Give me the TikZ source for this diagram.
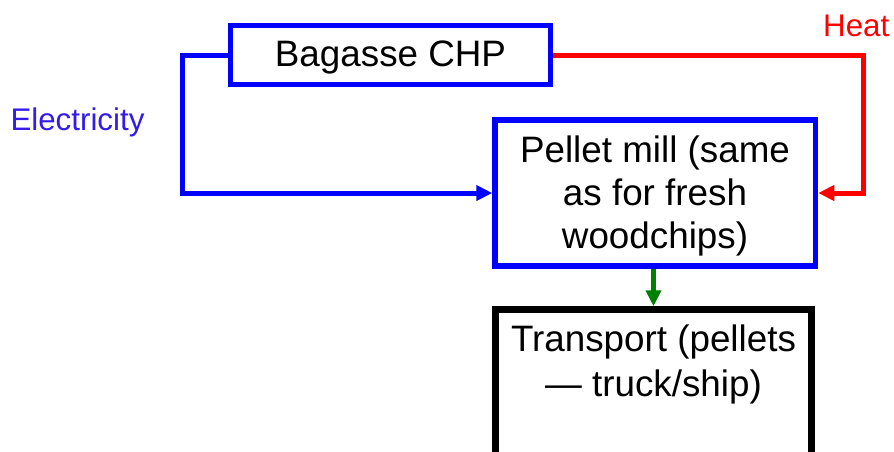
\documentclass[tikz,border=0pt]{standalone}
\usepackage{fontspec}
\setmainfont{Liberation Sans}
\usetikzlibrary{arrows.meta}
\definecolor{elabel}{RGB}{52,28,232}
\definecolor{flowgreen}{RGB}{0,128,0}
\begin{document}
\begin{tikzpicture}[x=1pt,y=-1pt,
  bluebox/.style={draw=blue,line width=5.5pt,fill=white,inner sep=0pt},
  blackbox/.style={draw=black,line width=6.5pt,fill=white,inner sep=0pt},
  boxtext/.style={inner sep=0pt,align=center,font=\fontsize{36.8}{42}\selectfont},
  conn/.style={line width=5pt,-{Triangle[length=16pt,width=15pt]}},
  lbl/.style={inner sep=0pt,anchor=base west,font=\fontsize{31.3}{36}\selectfont}]
\useasboundingbox (0,0) rectangle (894,451);
\clip (0,0) rectangle (894,451);
\fill[white] (0,0) rectangle (894,451);
% boxes
\node[bluebox,minimum width=320pt,minimum height=59pt] (chp) at (390.5,55) {};
\node[boxtext,anchor=base] (chptxt) at (390.5,66.7) {Bagasse CHP};
\node[bluebox,minimum width=320.5pt,minimum height=146pt] (pellet) at (655.25,193) {};
\node[boxtext,font=\fontsize{36.8}{43}\selectfont] (pellettxt) at (655,196) {Pellet mill (same\\as for fresh\\woodchips)};
\node[blackbox,minimum width=316pt,minimum height=170.5pt] (transport) at (653.5,394.75) {};
\node[boxtext,font=\fontsize{36.8}{45}\selectfont] (transporttxt) at (653.5,364.5) {Transport (pellets\\— truck/ship)};
% labels
\node[lbl,text=elabel] (elec) at (10.3,130) {Electricity};
\node[lbl,text=red] (heat) at (823,36.7) {Heat};
% connectors
\coordinate (elx) at (182.5,0);
\coordinate (htx) at (863,0);
\draw[conn,blue] (chp.west) -- (chp.west -| elx) |- (pellet.west);
\draw[conn,red] (chp.east) -- (chp.east -| htx) |- (pellet.east);
\draw[conn,flowgreen] (pellet.south -| transport.north) -- (transport.north);
\end{tikzpicture}
\end{document}
